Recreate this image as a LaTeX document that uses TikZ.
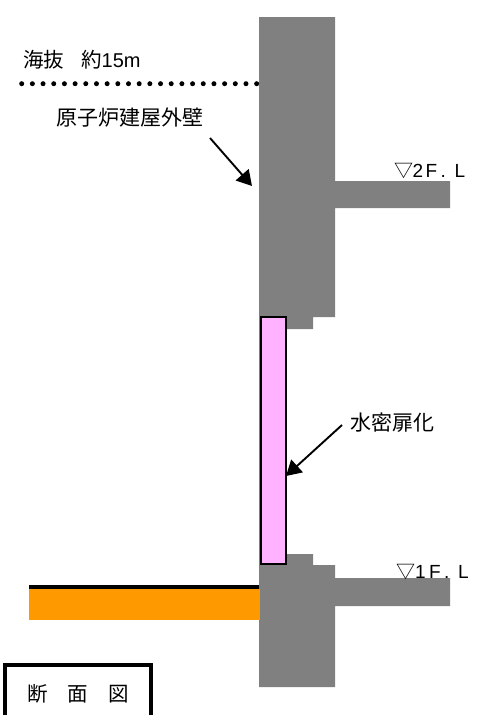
\documentclass[tikz,border=0pt]{standalone}
\usepackage{fontspec}
\setmainfont{Noto Sans CJK JP}
\newfontfamily\latinfont{Liberation Sans}
\definecolor{wallgray}{RGB}{128,128,128}
\definecolor{doorpink}{RGB}{255,178,255}
\definecolor{soilorange}{RGB}{255,153,0}
\usetikzlibrary{arrows.meta}
\newcommand{\cell}[2]{\makebox[#1pt][l]{#2}}
\tikzset{
  label/.style={inner sep=0pt,anchor=west,font=\fontsize{20.5}{22}\selectfont},
  widelabel/.style={inner sep=0pt,anchor=west,font=\fontsize{21}{22}\selectfont},
  levellabel/.style={inner sep=0pt,anchor=base west,font=\fontsize{19}{20}\selectfont},
  pointer/.style={draw=black,line width=1.9pt,-{Triangle[length=15pt,width=17pt]}}
}
\begin{document}
\begin{tikzpicture}[x=1pt,y=-1pt]
\useasboundingbox (0,0) rectangle (490,715);
% wall
\fill[wallgray] (259,17) -- (335,17) -- (335,181) -- (450,181) -- (450,208) -- (335,208) -- (335,317)
  -- (313,317) -- (313,329) -- (286,329) -- (286,554) -- (313,554) -- (313,565) -- (335,565)
  -- (335,578) -- (450,578) -- (450,606) -- (335,606) -- (335,687) -- (259,687) -- cycle;
% door
\node[draw=black,line width=1.7pt,fill=doorpink,minimum width=25pt,minimum height=247pt,inner sep=0pt,outer sep=0pt,anchor=north west] (door) at (260.7,317.3) {};
% ground
\node[fill=soilorange,minimum width=231pt,minimum height=31pt,inner sep=0pt,outer sep=0pt,anchor=north west] (soil) at (29,589) {};
\draw[line width=3.8pt] (29,587) -- (259,587);
% sea level
\draw[line width=5pt,line cap=round,dash pattern=on 0pt off 10.68pt] (21.7,83.7) -- (259,83.7);
% labels
\node[label] (sea) at (23,60) {海抜\hspace{17pt}約{\latinfont\fontsize{20}{20}\selectfont 15m}};
\node[widelabel] (bldg) at (56,118) {原子炉建屋外壁};
\node[widelabel] (wd) at (350,423) {水密扉化};
\node[levellabel] (fl2) at (394,177) {\cell{18.5}{▽}{\latinfont\cell{13}{2}\cell{15}{F}\cell{14}{.}L}};
\node[levellabel] (fl1) at (396,578) {\cell{19}{▽}{\latinfont\cell{14}{1}\cell{15}{F}\cell{14}{.}L}};
\coordinate (a1s) at (210,138);
\coordinate (a1e) at (252,186);
\coordinate (a2s) at (342,425);
\coordinate (a2e) at (286,476);
\draw[pointer] (a1s) -- (a1e);
\draw[pointer] (a2s) -- (a2e);
% title box
\draw[line width=4pt] (5,716) -- (5,665) -- (151,665) -- (151,716);
\node[label] (title) at (27,694) {断\hspace{20pt}面\hspace{20pt}図};
\end{tikzpicture}
\end{document}
